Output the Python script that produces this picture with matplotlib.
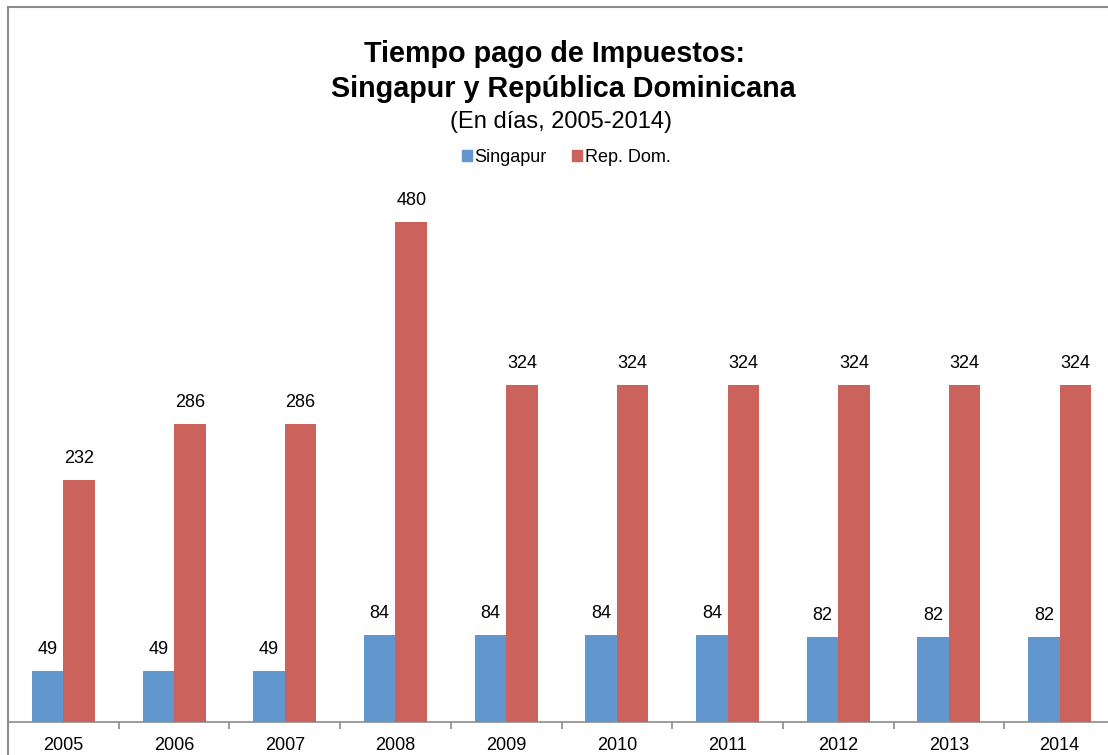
import matplotlib
matplotlib.use("Agg")
import matplotlib.pyplot as plt
from matplotlib.patches import Patch
from matplotlib.lines import Line2D

years = ["2005", "2006", "2007", "2008", "2009", "2010", "2011", "2012", "2013", "2014"]
singapur = [49, 49, 49, 84, 84, 84, 84, 82, 82, 82]
rep_dom = [232, 286, 286, 480, 324, 324, 324, 324, 324, 324]

blue = "#6197CC"
red = "#CC625C"
W, H = 1108, 755
plt.rcParams['font.family'] = ['Liberation Sans', 'DejaVu Sans']

fig = plt.figure(figsize=(W / 100, H / 100), dpi=100)
cat_w = 110.7
left = 8 / W
width = cat_w * 10 / W
bottom = (H - 722) / H
top_px = 200
ax = fig.add_axes([left, bottom, width, (722 - top_px) / H])
ymax = (722 - top_px) / (500 / 480)
ax.set_xlim(-0.5, 9.5)
ax.set_ylim(0, ymax)

bw = 0.285
x = list(range(len(years)))
ax.bar([i - bw / 2 for i in x], singapur, width=bw, color=blue, zorder=3)
ax.bar([i + bw / 2 for i in x], rep_dom, width=bw, color=red, zorder=3)
off = 17 * 0.72
for i in x:
    ax.annotate(str(singapur[i]), (i - bw / 2, singapur[i]), xytext=(0, off),
                textcoords="offset points", ha="center", va="baseline", fontsize=13)
    ax.annotate(str(rep_dom[i]), (i + bw / 2, rep_dom[i]), xytext=(0, off),
                textcoords="offset points", ha="center", va="baseline", fontsize=13)

for s in ["top", "right", "left"]:
    ax.spines[s].set_visible(False)
ax.spines["bottom"].set_color("#8c8c8c")
ax.spines["bottom"].set_linewidth(1.2)
ax.set_yticks([])
ax.set_xticks(x)
ax.set_xticklabels(years, fontsize=13)
ax.tick_params(axis="x", length=0, pad=11)
ax.set_xticks([i + 0.5 for i in range(-1, 10)], minor=True)
ax.tick_params(axis="x", which="minor", length=5, width=1.2, color="#8c8c8c", direction="out")

fig.add_artist(Line2D([8 / W, 8 / W], [0, 1 - 7 / H], color="#8c8c8c", lw=1.5))
fig.add_artist(Line2D([8 / W, 1.0], [1 - 7 / H, 1 - 7 / H], color="#8c8c8c", lw=1.5))

fig.text(555 / W, 1 - 62 / H, "Tiempo pago de Impuestos:", ha="center", va="baseline",
         fontsize=20.7, fontweight="bold")
fig.text(563 / W, 1 - 97 / H, "Singapur y República Dominicana", ha="center", va="baseline",
         fontsize=20.7, fontweight="bold")
fig.text(561 / W, 1 - 128 / H, "(En días, 2005-2014)", ha="center", va="baseline",
         fontsize=17)

handles = [Patch(color=blue, label="Singapur"), Patch(color=red, label="Rep. Dom.")]
fig.legend(handles=handles, loc="center", bbox_to_anchor=(566 / W, 1 - 157 / H), ncol=2,
           frameon=False, fontsize=13, handlelength=0.55, handleheight=0.55,
           handletextpad=0.15, columnspacing=1.4)

fig.savefig("out.png", dpi=100)
